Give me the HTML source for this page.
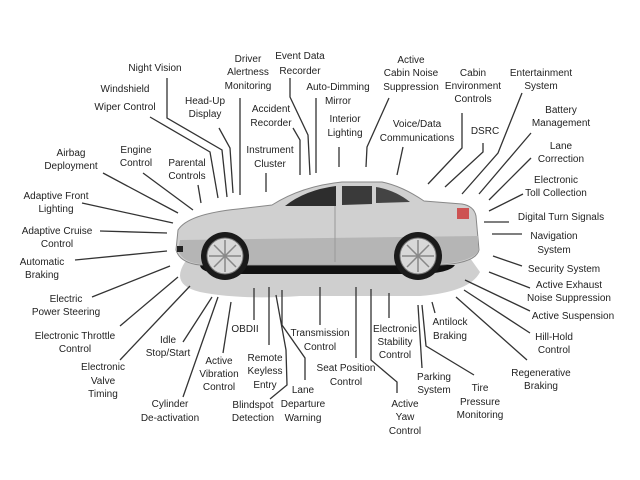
<!DOCTYPE html>
<html><head><meta charset="utf-8"><style>
html,body{margin:0;padding:0;background:#fff;}
svg{display:block;}
text{font-family:"Liberation Sans",sans-serif;font-size:10px;fill:#222;text-anchor:middle;}
</style></head><body>
<svg width="640" height="480" viewBox="0 0 640 480" xmlns="http://www.w3.org/2000/svg">
<rect width="640" height="480" fill="#fff"/>
<path d="M185,262 Q170,285 200,292 Q240,300 300,296 L420,296 Q470,292 480,272 L470,258 Z" fill="#cfcfcf"/>
<path d="M200,265 L455,265 Q450,273 420,274 L220,274 Q200,272 200,265 Z" fill="#111"/>
<path d="M178,230 Q188,214 238,209 L272,205 Q302,186 342,182 L382,182 Q402,186 424,201 L462,204 Q474,206 476,216 L479,250 Q476,263 440,265 L200,265 Q180,263 176,250 Z" fill="#d0d0d0" stroke="#888" stroke-width="1"/>
<path d="M180,240 L478,236 L478,252 Q470,262 440,264 L200,264 Q182,262 178,250 Z" fill="#b5b5b5"/>
<path d="M285,206 Q305,190 336,186 L336,206 Z" fill="#2d2d2d"/>
<path d="M342,186 L372,186 L372,204 L342,205 Z" fill="#3a3a3a"/>
<path d="M376,187 Q395,190 410,202 L376,203 Z" fill="#444"/>
<rect x="457" y="208" width="12" height="11" fill="#c33" opacity="0.8"/>
<rect x="177" y="246" width="6" height="6" fill="#222"/>
<line x1="335" y1="206" x2="335" y2="262" stroke="#999"/>
<circle cx="225" cy="256" r="24" fill="#1a1a1a"/>
<circle cx="225" cy="256" r="18" fill="#d8d8d8" stroke="#777"/>
<circle cx="418" cy="256" r="24" fill="#1a1a1a"/>
<circle cx="418" cy="256" r="18" fill="#d8d8d8" stroke="#777"/>
<g stroke="#888" stroke-width="1.5">
<line x1="225" y1="240" x2="225" y2="272"/><line x1="209" y1="256" x2="241" y2="256"/><line x1="214" y1="245" x2="236" y2="267"/><line x1="236" y1="245" x2="214" y2="267"/>
<line x1="418" y1="240" x2="418" y2="272"/><line x1="402" y1="256" x2="434" y2="256"/><line x1="407" y1="245" x2="429" y2="267"/><line x1="429" y1="245" x2="407" y2="267"/>
</g>
<g stroke="#333" stroke-width="1.3" fill="none">
<polyline points="167,78 167,118 222,150 227,197"/>
<polyline points="150,117 210,152 218,198"/>
<polyline points="219,128 230,148 233,193"/>
<polyline points="240,98 240,195"/>
<polyline points="290,78 290,97 308,135 310,175"/>
<polyline points="293,128 300,140 300,175"/>
<polyline points="316,98 316,173"/>
<polyline points="266,173 266,192"/>
<polyline points="198,185 201,203"/>
<polyline points="143,173 193,210"/>
<polyline points="103,173 178,213"/>
<polyline points="82,203 173,223"/>
<polyline points="100,231 167,233"/>
<polyline points="75,260 167,251"/>
<polyline points="92,297 170,266"/>
<polyline points="120,326 178,277"/>
<polyline points="120,360 190,286"/>
<polyline points="183,342 212,297"/>
<polyline points="183,397 218,297"/>
<polyline points="223,353 231,302"/>
<polyline points="254,320 254,288"/>
<polyline points="269,345 269,287"/>
<polyline points="276,295 286,350 287,385 270,399"/>
<polyline points="305,380 305,358 282,325 282,290"/>
<polyline points="320,287 320,325"/>
<polyline points="356,287 356,358"/>
<polyline points="371,289 371,360 397,382 397,393"/>
<polyline points="389,293 389,318"/>
<polyline points="422,368 418,305"/>
<polyline points="422,305 426,346 474,375"/>
<polyline points="432,302 435,313"/>
<polyline points="456,297 527,360"/>
<polyline points="464,290 530,333"/>
<polyline points="465,280 530,311"/>
<polyline points="489,272 530,288"/>
<polyline points="493,256 522,266"/>
<polyline points="492,234 522,234"/>
<polyline points="484,222 509,222"/>
<polyline points="489,211 523,194"/>
<polyline points="489,200 531,158"/>
<polyline points="479,194 531,133"/>
<polyline points="462,194 498,153 522,93"/>
<polyline points="445,187 483,152 483,143"/>
<polyline points="428,184 462,148 462,113"/>
<polyline points="397,175 403,147"/>
<polyline points="366,167 367,147 389,98"/>
<polyline points="339,147 339,167"/>
</g>
<text x="155" y="71">Night Vision</text>
<text x="125" y="92">Windshield</text><text x="125" y="110">Wiper Control</text>
<text x="248" y="62">Driver</text><text x="248" y="75">Alertness</text><text x="248" y="89">Monitoring</text>
<text x="300" y="59">Event Data</text><text x="300" y="74">Recorder</text>
<text x="205" y="104">Head-Up</text><text x="205" y="117">Display</text>
<text x="338" y="90">Auto-Dimming</text><text x="338" y="104">Mirror</text>
<text x="271" y="112">Accident</text><text x="271" y="126">Recorder</text>
<text x="345" y="122">Interior</text><text x="345" y="136">Lighting</text>
<text x="411" y="63">Active</text><text x="411" y="76">Cabin Noise</text><text x="411" y="90">Suppression</text>
<text x="473" y="76">Cabin</text><text x="473" y="89">Environment</text><text x="473" y="102">Controls</text>
<text x="541" y="76">Entertainment</text><text x="541" y="89">System</text>
<text x="417" y="127">Voice/Data</text><text x="417" y="141">Communications</text>
<text x="485" y="134">DSRC</text>
<text x="561" y="113">Battery</text><text x="561" y="126">Management</text>
<text x="561" y="149">Lane</text><text x="561" y="162">Correction</text>
<text x="556" y="183">Electronic</text><text x="556" y="196">Toll Collection</text>
<text x="561" y="220">Digital Turn Signals</text>
<text x="554" y="239">Navigation</text><text x="554" y="253">System</text>
<text x="564" y="272">Security System</text>
<text x="569" y="288">Active Exhaust</text><text x="569" y="301">Noise Suppression</text>
<text x="573" y="319">Active Suspension</text>
<text x="554" y="340">Hill-Hold</text><text x="554" y="353">Control</text>
<text x="541" y="376">Regenerative</text><text x="541" y="389">Braking</text>
<text x="480" y="391">Tire</text><text x="480" y="405">Pressure</text><text x="480" y="418">Monitoring</text>
<text x="434" y="380">Parking</text><text x="434" y="393">System</text>
<text x="450" y="325">Antilock</text><text x="450" y="339">Braking</text>
<text x="395" y="332">Electronic</text><text x="395" y="345">Stability</text><text x="395" y="358">Control</text>
<text x="405" y="407">Active</text><text x="405" y="420">Yaw</text><text x="405" y="434">Control</text>
<text x="346" y="371">Seat Position</text><text x="346" y="385">Control</text>
<text x="320" y="336">Transmission</text><text x="320" y="350">Control</text>
<text x="303" y="393">Lane</text><text x="303" y="407">Departure</text><text x="303" y="421">Warning</text>
<text x="253" y="408">Blindspot</text><text x="253" y="421">Detection</text>
<text x="265" y="361">Remote</text><text x="265" y="374">Keyless</text><text x="265" y="388">Entry</text>
<text x="245" y="332">OBDII</text>
<text x="219" y="364">Active</text><text x="219" y="377">Vibration</text><text x="219" y="390">Control</text>
<text x="170" y="407">Cylinder</text><text x="170" y="421">De-activation</text>
<text x="168" y="343">Idle</text><text x="168" y="356">Stop/Start</text>
<text x="103" y="370">Electronic</text><text x="103" y="384">Valve</text><text x="103" y="397">Timing</text>
<text x="75" y="339">Electronic Throttle</text><text x="75" y="352">Control</text>
<text x="66" y="302">Electric</text><text x="66" y="315">Power Steering</text>
<text x="42" y="265">Automatic</text><text x="42" y="278">Braking</text>
<text x="57" y="234">Adaptive Cruise</text><text x="57" y="247">Control</text>
<text x="56" y="199">Adaptive Front</text><text x="56" y="212">Lighting</text>
<text x="71" y="156">Airbag</text><text x="71" y="169">Deployment</text>
<text x="136" y="153">Engine</text><text x="136" y="166">Control</text>
<text x="187" y="166">Parental</text><text x="187" y="179">Controls</text>
<text x="270" y="153">Instrument</text><text x="270" y="167">Cluster</text>
</svg>
</body></html>
